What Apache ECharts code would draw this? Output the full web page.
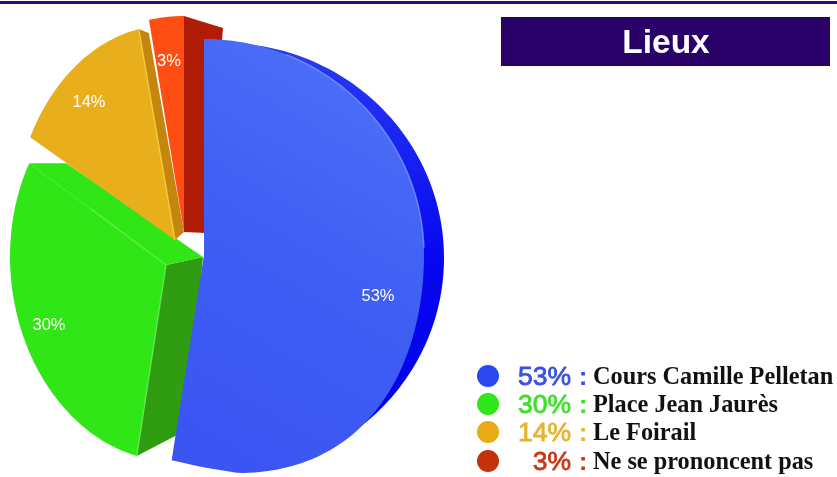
<!DOCTYPE html>
<html>
<head>
<meta charset="utf-8">
<script src="https://cdn.jsdelivr.net/npm/echarts@6/dist/echarts.min.js"></script>
<style>html,body{margin:0;padding:0;background:#fff}#c{width:837px;height:477px}</style>
</head>
<body>
<div id="c"></div>
<script>
// ---- data ----
var places = ['Cours Camille Pelletan', 'Place Jean Jaurès', 'Le Foirail', 'Ne se prononcent pas'];
var shares = [53, 30, 14, 3];
var title = 'Lieux';

// ---- styles and projected geometry of each exploded slice ----
var legendColors = ['#2b47f0', '#2ee81c', '#e8ab14', '#c4300a'];
var legendTextColors = ['#3a4fe6', '#3fe02a', '#e6b32e', '#c8391c'];
var slices = [
  {z: 4, apex: [204, 255], rx: 220, ry: 216, sx: 0, sy: 0, label: [378, 294],
   lower: {ry: 218, shear: 35, leftRx: 353, leftSy: 48},
   face: {type: 'linear', x: 0.9, y: 0.1, x2: 0.1, y2: 0.9, colorStops: [{offset: 0, color: '#4c6ff8'}, {offset: 0.5, color: '#3f5ef4'}, {offset: 1, color: '#3b55f2'}]},
   rim: '#7f9fff', rimFrom: 22, rimTo: 88,
   side: {center: [224, 258], rx: 220, ry: 215, to: 150,
     fill: {type: 'linear', x: 0, y: 0, x2: 0, y2: 1, colorStops: [{offset: 0, color: '#2a3cf2'}, {offset: 0.55, color: '#0606f0'}, {offset: 1, color: '#0000e8'}]}}},
  {z: 1, apex: [166, 265], rx: 156, ry: 196, sx: 0, sy: 8.5, label: [49, 323], face: '#30e616',
   walls: [
     {end: 'first', fill: '#2f9c12', apexOff: [37, -8], edgeOff: [50, -26], line: '#63ee4e'},
     {end: 'last', fill: '#30e616', apexOff: [37, -8], edgeOff: [37, 0], line: '#63ee4e', lineLen: 0.55}
   ]},
  {z: 3, apex: [175, 240], rx: 162, ry: 215, sx: -6, sy: -1, label: [89, 100], face: '#e8ae1c',
   walls: [{end: 'last', fill: '#c4860e', apexOff: [9, -8], edgeOff: [10, 4], line: '#f6d234'}]},
  {z: 2, apex: [184, 232], rx: 187, ry: 216, sx: 0, sy: 0, label: [169, 59], face: '#ff4e14',
   walls: [{end: 'last', fill: '#b01c05', apexOff: [22, 1], edgeOff: [39, 12]}]}
];

var total = shares.reduce(function (a, b) { return a + b; }, 0);
var starts = [];
shares.reduce(function (acc, v, i) { starts[i] = acc; return acc + v; }, 0);

function pointOn(s, deg) {
  var t = deg * Math.PI / 180, sn = Math.sin(t), cs = Math.cos(t), L = s.lower;
  if (L && cs < 0) {
    // lower half of the perspective-warped disc
    var rx = sn >= 0 ? s.rx : L.leftRx;
    return [s.apex[0] + rx * sn + L.shear * cs * cs,
            s.apex[1] + (sn < 0 ? L.leftSy * sn : 0) + L.ry * (-cs)];
  }
  return [s.apex[0] + s.rx * sn + s.sx * cs,
          s.apex[1] + s.sy * sn - s.ry * cs];
}
function arc(s, a, b) {
  var pts = [], n = Math.max(2, Math.ceil(Math.abs(b - a) / 1.5));
  for (var i = 0; i <= n; i++) pts.push(pointOn(s, a + (b - a) * i / n));
  return pts;
}
function renderSlice(params, api) {
  var i = params.dataIndex, s = slices[i], v = api.value(0);
  var a = starts[i] / total * 360, b = a + v / total * 360;
  var kids = [];
  if (s.side) {
    var so = {apex: s.side.center, rx: s.side.rx, ry: s.side.ry, sx: 0, sy: 0};
    kids.push({type: 'polygon', z2: s.z, silent: true,
      shape: {points: [so.apex].concat(arc(so, a, s.side.to))},
      style: {fill: s.side.fill}});
  }
  (s.walls || []).forEach(function (w) {
    var e = pointOn(s, w.end === 'first' ? a : b);
    kids.push({type: 'polygon', z2: s.z, silent: true,
      shape: {points: [s.apex, e, [e[0] + w.edgeOff[0], e[1] + w.edgeOff[1]], [s.apex[0] + w.apexOff[0], s.apex[1] + w.apexOff[1]]]},
      style: {fill: w.fill}});
  });
  kids.push({type: 'polygon', z2: s.z + 0.1, silent: true,
    shape: {points: [s.apex].concat(arc(s, a, b))},
    style: {fill: s.face}});
  (s.walls || []).forEach(function (w) {
    if (!w.line) return;
    var e = pointOn(s, w.end === 'first' ? a : b), k = w.lineLen || 1;
    kids.push({type: 'polyline', z2: s.z + 0.2, silent: true,
      shape: {points: [s.apex, [s.apex[0] + (e[0] - s.apex[0]) * k, s.apex[1] + (e[1] - s.apex[1]) * k]]},
      style: {stroke: w.line, lineWidth: 1.5, fill: 'none', opacity: 0.8}});
  });
  if (s.rim) {
    kids.push({type: 'polyline', z2: s.z + 0.2, silent: true,
      shape: {points: arc(s, s.rimFrom, s.rimTo)},
      style: {stroke: s.rim, lineWidth: 1.5, fill: 'none', opacity: 0.7}});
  }
  kids.push({type: 'text', z2: 20, silent: true,
    x: s.label[0], y: s.label[1] + 2,
    style: {text: v + '%', fill: '#ffffff', font: '16.5px "Liberation Sans", Arial, sans-serif',
      textAlign: 'center', textVerticalAlign: 'middle',
      shadowColor: 'rgba(50,50,50,0.9)', shadowBlur: 3, shadowOffsetX: 0.5, shadowOffsetY: 1}});
  return {type: 'group', children: kids};
}

// ---- frame, title, legend ----
var graphics = [
  {type: 'rect', shape: {x: 0, y: 1, width: 837, height: 3}, style: {fill: '#2c0a78'}},
  {type: 'rect', shape: {x: 501, y: 17, width: 329, height: 49}, style: {fill: '#2a0069'}},
  {type: 'text', x: 666, y: 44, style: {text: title, fill: '#fff', font: 'bold 33.5px "Liberation Sans", Arial, sans-serif', textAlign: 'center', textVerticalAlign: 'middle'}}
];
var rowY = [376, 404, 432, 461];
places.forEach(function (name, i) {
  var y = rowY[i];
  graphics.push({type: 'circle', shape: {cx: 488, cy: y, r: 11}, style: {fill: legendColors[i]}});
  graphics.push({type: 'text', x: 571, y: y + 2, style: {text: shares[i] + '%', fill: legendTextColors[i], font: '26.5px "Liberation Sans", Arial, sans-serif', textAlign: 'right', textVerticalAlign: 'middle', stroke: legendTextColors[i], lineWidth: 0.8}});
  graphics.push({type: 'text', x: 583, y: y + 2, style: {text: ':', fill: legendTextColors[i], font: 'bold 26px "Liberation Sans", Arial, sans-serif', textAlign: 'center', textVerticalAlign: 'middle'}});
  graphics.push({type: 'text', x: 593, y: y + 2, style: {text: name, fill: '#111', font: 'bold 24.3px "Liberation Serif", "Times New Roman", serif', textAlign: 'left', textVerticalAlign: 'middle'}});
});

var chart = echarts.init(document.getElementById('c'), null, {renderer: 'canvas'});
chart.setOption({
  animation: false,
  backgroundColor: '#ffffff',
  graphic: {elements: graphics},
  series: [{
    type: 'custom',
    coordinateSystem: 'none',
    renderItem: renderSlice,
    data: shares.map(function (v, i) { return {name: places[i], value: [v]}; })
  }]
});
</script>
</body>
</html>
